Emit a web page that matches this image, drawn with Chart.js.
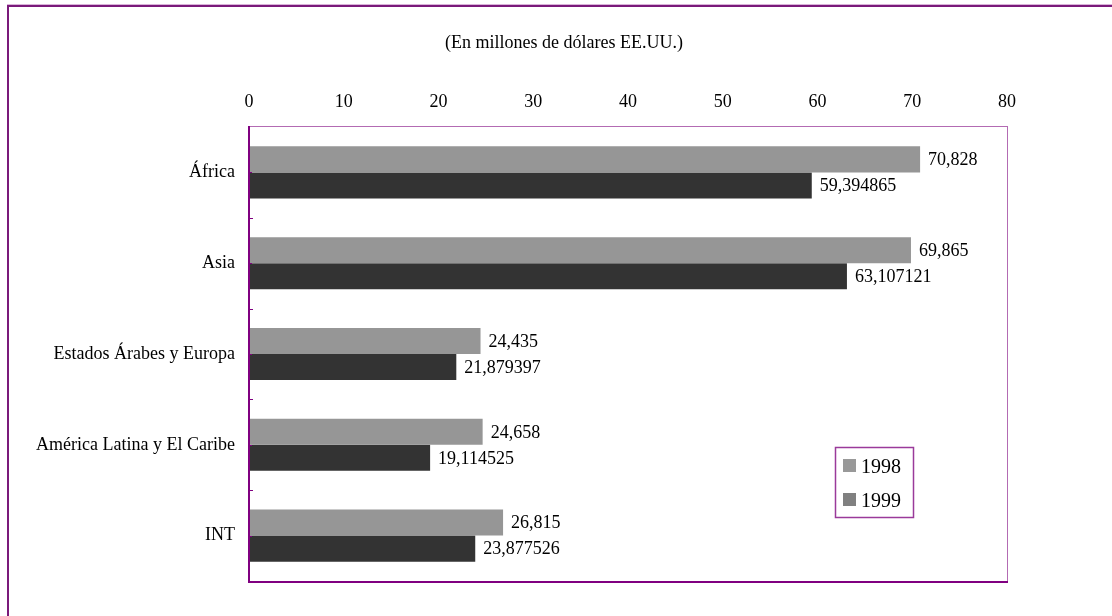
<!DOCTYPE html>
<html>
<head>
<meta charset="utf-8">
<title>Regiones 1998-1999</title>
<script src="https://cdn.jsdelivr.net/npm/chart.js@4.4.1/dist/chart.umd.min.js"></script>
<style>
  html, body { margin: 0; padding: 0; background: #fff; }
  #wrap { width: 1112px; height: 616px; position: relative; }
</style>
</head>
<body>
<div id="wrap"><canvas id="myChart" width="1112" height="616"></canvas></div>
<script>
const regiones = ['África', 'Asia', 'Estados Árabes y Europa', 'América Latina y El Caribe', 'INT'];
const valores1998 = [70.828, 69.865, 24.435, 24.658, 26.815];
const valores1999 = [59.394865, 63.107121, 21.879397, 19.114525, 23.877526];
const series = ['1998', '1999'];
const xTicks = [0, 10, 20, 30, 40, 50, 60, 70, 80];
const titulo = '(En millones de dólares EE.UU.)';

const FONT = "'Liberation Serif', 'Times New Roman', serif";
const PURPLE = '#800080';
const PURPLE_LIGHT = '#b36bb3';
const barColors = ['#969696', '#333333'];
const legendColors = ['#999999', '#808080'];

// dibuja marco, titulo, etiquetas de datos y leyenda
const decor = {
  id: 'decor',
  afterDatasetsDraw(chart) {
    const ctx = chart.ctx;
    ctx.save();
    ctx.font = '18px ' + FONT;
    ctx.fillStyle = '#000';
    ctx.textBaseline = 'middle';
    ctx.textAlign = 'left';
    chart.data.datasets.forEach(function(ds, i) {
      chart.getDatasetMeta(i).data.forEach(function(bar, j) {
        const txt = String(ds.data[j]).replace('.', ',');
        ctx.fillText(txt, bar.x + 8, bar.y + 1);
      });
    });
    ctx.restore();
  },
  afterDraw(chart) {
    const ctx = chart.ctx;
    const a = chart.chartArea;
    const y = chart.scales.y;
    ctx.save();

    // marco exterior
    ctx.fillStyle = '#d9b3d9';
    ctx.fillRect(7, 4, 1105, 1);
    ctx.fillStyle = '#7a1a7a';
    ctx.fillRect(7, 5, 1105, 2);
    ctx.fillRect(7, 5, 2, 611);

    // borde del area de trazado
    ctx.fillStyle = PURPLE_LIGHT;
    ctx.fillRect(a.left, a.top - 1, a.right - a.left + 1, 1);
    ctx.fillRect(a.right, a.top - 1, 1, a.bottom - a.top + 2);
    ctx.fillStyle = PURPLE;
    ctx.fillRect(a.left - 1, a.top - 1, 2, a.bottom - a.top + 2);
    ctx.fillRect(a.left - 1, a.bottom, a.right - a.left + 2, 2);

    // marcas entre categorias
    for (let i = 0; i < regiones.length; i++) {
      const yy = Math.round(y.getPixelForTick(i) + (y.getPixelForTick(1) - y.getPixelForTick(0)) / 2);
      if (i < regiones.length - 1) ctx.fillRect(a.left, yy, 4, 1);
      ctx.fillRect(a.left, Math.round(y.getPixelForTick(i)), 3, 1);
    }

    // titulo
    ctx.fillStyle = '#000';
    ctx.font = '18px ' + FONT;
    ctx.textAlign = 'center';
    ctx.textBaseline = 'middle';
    ctx.fillText(titulo, 564, 43);

    // leyenda
    const lx = 835, ly = 447, lw = 78, lh = 70;
    ctx.fillStyle = '#fff';
    ctx.fillRect(lx, ly, lw, lh);
    ctx.strokeStyle = '#9a3a9a';
    ctx.lineWidth = 1.5;
    ctx.strokeRect(lx + 0.5, ly + 0.5, lw, lh);
    ctx.font = '20px ' + FONT;
    ctx.textAlign = 'left';
    series.forEach(function(s, i) {
      const sy = ly + 12 + i * 34;
      ctx.fillStyle = legendColors[i];
      ctx.fillRect(lx + 8, sy, 13, 13);
      ctx.fillStyle = '#000';
      ctx.fillText(s, lx + 26, sy + 9);
    });
    ctx.restore();
  }
};

const ctx = document.getElementById('myChart').getContext('2d');
new Chart(ctx, {
  type: 'bar',
  data: {
    labels: regiones,
    datasets: [
      { label: series[0], data: valores1998, backgroundColor: barColors[0] },
      { label: series[1], data: valores1999, backgroundColor: barColors[1] }
    ]
  },
  options: {
    indexAxis: 'y',
    responsive: false,
    animation: false,
    devicePixelRatio: 1,
    layout: { padding: { left: 0, right: 105, top: 0, bottom: 35 } },
    datasets: {
      bar: { categoryPercentage: 0.574, barPercentage: 1.0, borderWidth: 0 }
    },
    plugins: {
      legend: { display: false },
      tooltip: { enabled: false },
      title: { display: false }
    },
    scales: {
      x: {
        position: 'top',
        min: 0,
        max: 80,
        afterBuildTicks: function(scale) {
          scale.ticks = xTicks.map(function(v) { return { value: v }; });
        },
        afterFit: function(scale) { scale.height = 127; },
        grid: { display: false, drawTicks: false },
        border: { display: false },
        ticks: {
          color: '#000',
          font: { family: FONT, size: 18 },
          padding: 14,
          maxRotation: 0
        }
      },
      y: {
        afterFit: function(scale) { scale.width = 249; },
        grid: { display: false, drawTicks: false },
        border: { display: false },
        ticks: {
          color: '#000',
          font: { family: FONT, size: 18 },
          padding: 14
        }
      }
    }
  },
  plugins: [decor]
});
</script>
</body>
</html>
